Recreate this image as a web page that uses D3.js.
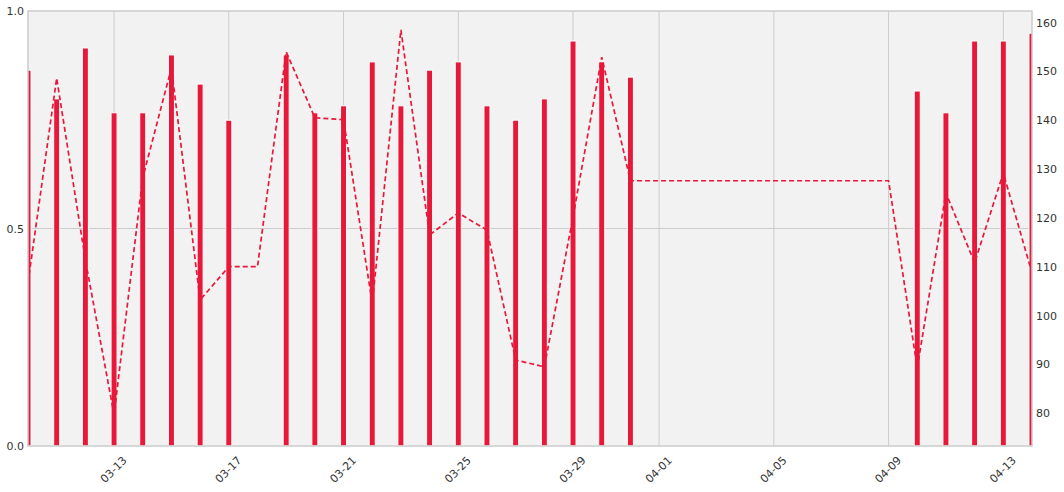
<!DOCTYPE html>
<html>
<head>
<meta charset="utf-8">
<script src="https://cdn.jsdelivr.net/npm/d3@7"></script>
<style>
    body { margin: 0; background: #ffffff; }
    svg { display: block; }
    svg text { font-family: "DejaVu Sans", sans-serif; }
</style>
</head>
<body>
<div id="chart"></div>
<script>
// Bars (left axis, 0..1)
const barDates = [
    '03-10', '03-11', '03-12', '03-13', '03-14', '03-15', '03-16', '03-17',
    '03-19', '03-20', '03-21', '03-22', '03-23', '03-24', '03-25', '03-26',
    '03-27', '03-28', '03-29', '03-30', '03-31',
    '04-10', '04-11', '04-12', '04-13', '04-14'
];
const barValues = [
    0.864, 0.798, 0.915, 0.766, 0.766, 0.899, 0.832, 0.749,
    0.899, 0.766, 0.782, 0.883, 0.782, 0.864, 0.883, 0.782,
    0.749, 0.798, 0.931, 0.883, 0.848,
    0.816, 0.766, 0.931, 0.931, 0.949
];

// Dashed line (right axis)
const lineDates = [
    '03-10', '03-11', '03-12', '03-13', '03-14', '03-15', '03-16', '03-17', '03-18',
    '03-19', '03-20', '03-21', '03-22', '03-23', '03-24', '03-25', '03-26', '03-27',
    '03-28', '03-29', '03-30', '03-31', '04-01', '04-02', '04-03', '04-04', '04-05',
    '04-06', '04-07', '04-08', '04-09', '04-10', '04-11', '04-12', '04-13', '04-14'
];
const lineValues = [
    106.7, 148.6, 111.4, 79.7, 128.2, 150.7, 103.2, 110.0, 110.0,
    154.0, 140.5, 140.1, 102.6, 158.5, 116.5, 121.0, 117.5, 90.9,
    89.5, 120.2, 152.9, 127.6, 127.6, 127.6, 127.6, 127.6, 127.6,
    127.6, 127.6, 127.6, 127.6, 89.3, 125.1, 110.8, 129.2, 108.7
];

const xDomain = ['03-10', '04-14'];
const leftTicks = [0, 0.5, 1];
const rightTicks = [80, 90, 100, 110, 120, 130, 140, 150, 160];
const rightDomain = [73.3, 162.35];

const YEAR = 2024;
const parseDay = s => d3.utcParse('%Y-%m-%d')(`${YEAR}-${s}`);

const W = 1064, H = 492;
const margin = { top: 11, right: 32, bottom: 46, left: 28 };
const width = W - margin.left - margin.right;
const height = H - margin.top - margin.bottom;
const red = '#e8183a';
const textColor = '#333333';
const FONT = '"DejaVu Sans", sans-serif';

const svg = d3.select('#chart')
    .append('svg')
    .attr('width', W)
    .attr('height', H);

const g = svg.append('g')
    .attr('transform', `translate(${margin.left},${margin.top})`);

// Scales
const x = d3.scaleUtc()
    .domain(xDomain.map(parseDay))
    .range([0, width]);

const yLeft = d3.scaleLinear()
    .domain([0, 1])
    .range([height, 0]);

const yRight = d3.scaleLinear()
    .domain(rightDomain)
    .range([height, 0]);

// Plot background
g.append('rect')
    .attr('width', width)
    .attr('height', height)
    .attr('fill', '#f2f2f2');

g.append('clipPath')
    .attr('id', 'plot-clip')
    .append('rect')
    .attr('width', width)
    .attr('height', height);

// Grid lines
const xTicks = x.ticks(d3.utcDay.every(4));
g.append('g')
    .selectAll('line')
    .data(xTicks)
    .join('line')
    .attr('x1', d => x(d))
    .attr('x2', d => x(d))
    .attr('y1', 0)
    .attr('y2', height)
    .attr('stroke', '#cccccc')
    .attr('stroke-width', 1);

g.append('line')
    .attr('x1', 0)
    .attr('x2', width)
    .attr('y1', yLeft(0.5))
    .attr('y2', yLeft(0.5))
    .attr('stroke', '#cccccc')
    .attr('stroke-width', 1);

// Bars
const barW = 6;
const plot = g.append('g').attr('clip-path', 'url(#plot-clip)');

plot.selectAll('rect.bar')
    .data(barDates.map((d, i) => ({ date: parseDay(d), value: barValues[i] })))
    .join('rect')
    .attr('class', 'bar')
    .attr('x', d => x(d.date) - barW / 2)
    .attr('y', d => yLeft(d.value))
    .attr('width', barW)
    .attr('height', d => height - yLeft(d.value))
    .attr('fill', red)
    .attr('stroke', '#ffffff')
    .attr('stroke-width', 1);

// Dashed line on the right axis
const line = d3.line()
    .x(d => x(d.date))
    .y(d => yRight(d.value));

plot.append('path')
    .datum(lineDates.map((d, i) => ({ date: parseDay(d), value: lineValues[i] })))
    .attr('d', line)
    .attr('fill', 'none')
    .attr('stroke', red)
    .attr('stroke-width', 1.7)
    .attr('stroke-dasharray', '5,3');

// Plot frame
g.append('rect')
    .attr('width', width)
    .attr('height', height)
    .attr('fill', 'none')
    .attr('stroke', '#cccccc')
    .attr('stroke-width', 1.5);

// Axes (d3 puts font-family="sans-serif" on the axis group, so override it)
const xAxis = g.append('g')
    .attr('transform', `translate(0,${height})`)
    .call(d3.axisBottom(x).tickValues(xTicks).tickFormat(d3.utcFormat('%m-%d')).tickSize(0));
xAxis.attr('font-family', FONT).attr('font-size', 11);
xAxis.select('.domain').remove();
xAxis.selectAll('text')
    .attr('fill', textColor)
    .attr('text-anchor', 'end')
    .attr('dy', 0)
    .attr('y', 0)
    .attr('transform', 'translate(13,15) rotate(-45)');

const leftAxis = g.append('g')
    .call(d3.axisLeft(yLeft).tickValues(leftTicks).tickFormat(d3.format('.1f')).tickSize(0).tickPadding(4));
leftAxis.attr('font-family', FONT).attr('font-size', 11);
leftAxis.select('.domain').remove();
leftAxis.selectAll('text').attr('fill', textColor);

const rightAxis = g.append('g')
    .attr('transform', `translate(${width},0)`)
    .call(d3.axisRight(yRight).tickValues(rightTicks).tickSize(0).tickPadding(4));
rightAxis.attr('font-family', FONT).attr('font-size', 11);
rightAxis.select('.domain').remove();
rightAxis.selectAll('text').attr('fill', textColor);
</script>
</body>
</html>
